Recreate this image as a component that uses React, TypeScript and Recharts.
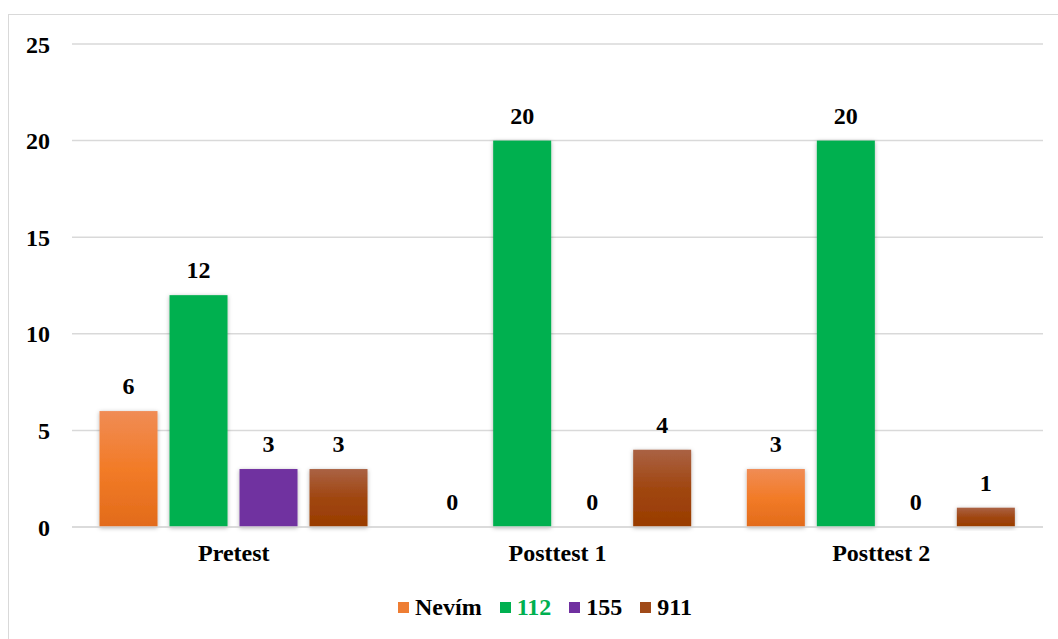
import React from 'react';
import { BarChart, Bar, XAxis, YAxis, CartesianGrid, Legend } from 'recharts';

const categories = ['Pretest', 'Posttest 1', 'Posttest 2'];
const nevim = [6, 0, 3];
const n112 = [12, 20, 20];
const n155 = [3, 0, 0];
const n911 = [3, 4, 1];
const yTicks = [0, 5, 10, 15, 20, 25];

const data = categories.map((name, i) => ({
  name,
  nevim: nevim[i],
  n112: n112[i],
  n155: n155[i],
  n911: n911[i],
}));

const FONT = 'Liberation Serif';
const FS = 24;

const legendItems = [
  { label: 'Nevím', color: '#ee7d33', text: '#000' },
  { label: '112', color: '#00b050', text: '#00b050' },
  { label: '155', color: '#7030a0', text: '#000' },
  { label: '911', color: '#a04a18', text: '#000' },
];

function LegendContent() {
  return (
    <div style={{ display: 'flex', justifyContent: 'center', alignItems: 'center', height: 30, paddingLeft: 32, fontFamily: FONT, fontWeight: 'bold', fontSize: FS }}>
      {legendItems.map((it, i) => (
        <div key={it.label} style={{ display: 'flex', alignItems: 'center', marginRight: i < legendItems.length - 1 ? 18 : 0 }}>
          <div style={{ width: 11, height: 11, background: it.color, marginRight: 6 }}></div>
          <span style={{ color: it.text }}>{it.label}</span>
        </div>
      ))}
    </div>
  );
}

// bar rect plus its value above it (zero bars still get their "0")
function BarWithLabel(props: any) {
  const { x, y, width, height, fill, value } = props;
  const v = Array.isArray(value) ? value[1] - value[0] : value;
  return (
    <g>
      {height > 0 && <rect x={x} y={y} width={width} height={height} fill={fill} filter="url(#shadow)" />}
      <text x={x + width / 2} y={y - 17} textAnchor="middle" fontFamily={FONT} fontWeight="bold" fontSize={FS} fill="#000">
        {v}
      </text>
    </g>
  );
}

export default function App() {
  return (
    <div style={{ position: 'fixed', left: 0, top: 0, width: 1058, height: 639, overflow: 'hidden', background: '#fff' }}>
      <div style={{ position: 'absolute', left: 8, top: 14, width: 1100, height: 700, border: '1px solid #d9d9d9' }}></div>
      <div style={{ position: 'absolute', left: 0, top: 0 }}>
        <BarChart
          width={1058}
          height={639}
          data={data}
          margin={{ top: 44, right: 15, left: 0, bottom: 42 }}
          barGap={12}
          barCategoryGap="8.5%"
        >
          <defs>
            <linearGradient id="gOrange" x1="0" y1="0" x2="0" y2="1">
              <stop offset="0%" stopColor="#f08c55" />
              <stop offset="50%" stopColor="#f27b27" />
              <stop offset="100%" stopColor="#e26b1b" />
            </linearGradient>
            <linearGradient id="gBrown" x1="0" y1="0" x2="0" y2="1">
              <stop offset="0%" stopColor="#aa6244" />
              <stop offset="50%" stopColor="#a04610" />
              <stop offset="100%" stopColor="#993c00" />
            </linearGradient>
            <filter id="shadow" x="-20%" y="-20%" width="140%" height="140%">
              <feDropShadow dx="0" dy="1" stdDeviation="2" floodColor="#000" floodOpacity="0.3" />
            </filter>
          </defs>
          <CartesianGrid vertical={false} stroke="#d9d9d9" strokeWidth={1.5} />
          <XAxis
            dataKey="name"
            axisLine={{ stroke: '#d9d9d9', strokeWidth: 1.5 }}
            tickLine={false}
            tickSize={0}
            tickMargin={17}
            height={40}
            tick={{ fontFamily: FONT, fontWeight: 'bold', fontSize: FS, fill: '#000' }}
          />
          <YAxis
            domain={[0, 25]}
            ticks={yTicks}
            axisLine={false}
            tickLine={false}
            tickSize={0}
            tickMargin={22}
            width={72}
            tick={{ fontFamily: FONT, fontWeight: 'bold', fontSize: FS, fill: '#000' }}
          />
          <Legend verticalAlign="bottom" content={<LegendContent />} wrapperStyle={{ left: 0, width: 1058, top: 592 }} />
          <Bar dataKey="nevim" fill="url(#gOrange)" shape={<BarWithLabel />} isAnimationActive={false} />
          <Bar dataKey="n112" fill="#00b050" shape={<BarWithLabel />} isAnimationActive={false} />
          <Bar dataKey="n155" fill="#7030a0" shape={<BarWithLabel />} isAnimationActive={false} />
          <Bar dataKey="n911" fill="url(#gBrown)" shape={<BarWithLabel />} isAnimationActive={false} />
        </BarChart>
      </div>
    </div>
  );
}
